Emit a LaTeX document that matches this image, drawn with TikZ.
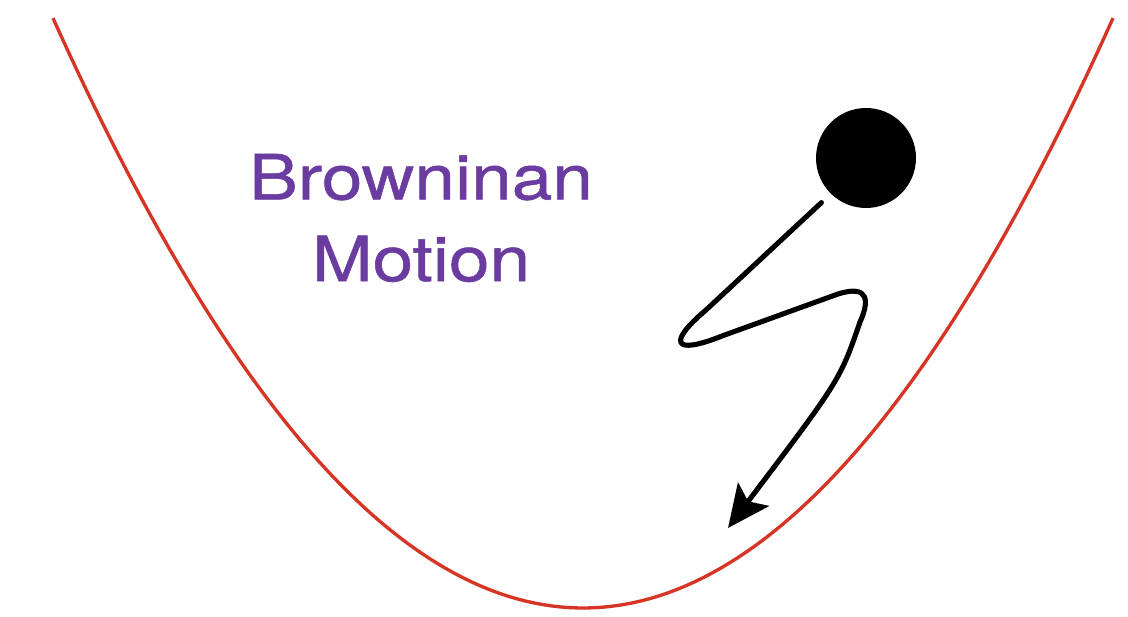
\documentclass[tikz,border=0pt]{standalone}
\usepackage{fontspec}
\usepackage{tikz}
\usetikzlibrary{arrows.meta}
\newfontfamily\motionfont[FakeStretch=1.17, FakeBold=0.8]{TeX Gyre Heros}
\definecolor{bowlred}{RGB}{214,52,36}
\definecolor{motionpurple}{RGB}{106,60,160}

\begin{document}
\begin{tikzpicture}[
        x=0.02cm, y=-0.02cm,
        >={Stealth[length=24pt, width=22pt, inset=5pt]},
        bowl/.style={draw=bowlred, line width=1.9pt},
        ball/.style={circle, fill=black, minimum size=2cm, inner sep=0pt},
        walk/.style={draw=black, line width=2.9pt, line cap=round, line join=round},
        caption/.style={text=motionpurple, align=center,
            font=\motionfont\fontsize{35.5}{46.5}\selectfont}
    ]
        \useasboundingbox (0,0) rectangle (1128,617);
        % potential well
        \draw[bowl] plot[domain=53:1113, samples=120]
            (\x, {608 - 21*((\x-583)/100)^2});
        \node[caption] (txt) at (421,218) {Browninan\\Motion};
        \node[ball] (ball) at (866,158) {};
        \coordinate (tip) at (728,528);
        \draw[walk, ->] ([shift={(-9,9)}]ball.225) -- (706,310)
            .. controls (668,342) and (672,356) .. (722,336) -- (838,294)
            .. controls (870,284) and (869,302) .. (860,322)
            .. controls (840,380) .. (tip);
\end{tikzpicture}
\end{document}
